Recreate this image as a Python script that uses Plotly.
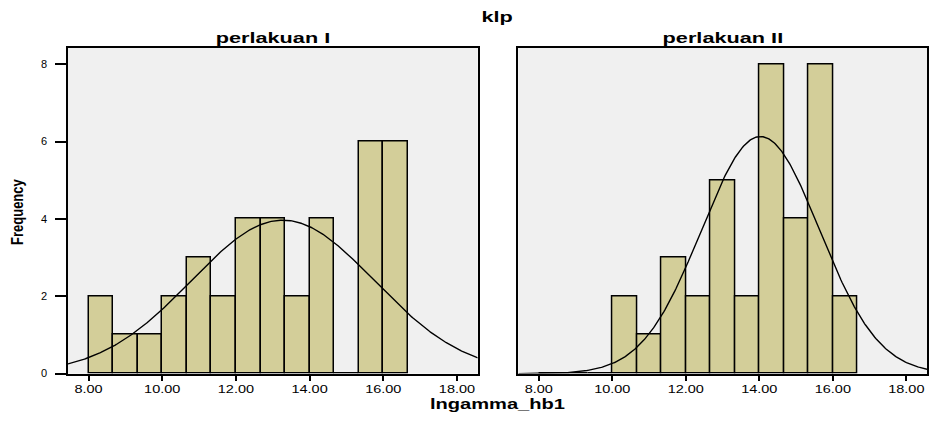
import numpy as np
import plotly.graph_objects as go

# ---- data ----
bin_start = 8.0
bin_width = 2.0 / 3.0
counts_p1 = [2, 1, 1, 2, 3, 2, 4, 4, 2, 4, 0, 6, 6]
counts_p2 = [0, 0, 0, 2, 1, 3, 2, 5, 2, 8, 4, 8, 2]
panel_titles = ["perlakuan I", "perlakuan II"]
mean_p1, sd_p1 = 13.27, 2.48
mean_p2, sd_p2 = 14.03, 1.605
x_ticks = [8, 10, 12, 14, 16, 18]
x_tick_text = ["8.00", "10.00", "12.00", "14.00", "16.00", "18.00"]
y_ticks = [0, 2, 4, 6, 8]

W, H = 930, 423
bar_color = "#D3CE99"
x_range = [7.44, 18.56]
y_range = [0, 8.43]

fig = go.Figure()

def add_panel(counts, mean, sd, xa, ya):
    centers = [bin_start + bin_width * (i + 0.5) for i in range(len(counts))]
    fig.add_trace(go.Bar(
        x=centers, y=counts, width=bin_width,
        marker=dict(color=bar_color, line=dict(color="black", width=1.5)),
        xaxis=xa, yaxis=ya, showlegend=False, hoverinfo="skip"))
    n = sum(counts)
    xs = np.linspace(x_range[0], x_range[1], 400)
    ys = n * bin_width / (sd * np.sqrt(2 * np.pi)) * np.exp(-0.5 * ((xs - mean) / sd) ** 2)
    fig.add_trace(go.Scatter(
        x=xs, y=ys, mode="lines", line=dict(color="black", width=1.4),
        xaxis=xa, yaxis=ya, showlegend=False, hoverinfo="skip"))

add_panel(counts_p1, mean_p1, sd_p1, "x", "y")
add_panel(counts_p2, mean_p2, sd_p2, "x2", "y2")

y_dom = [1 - 379 / H, 1 - 48.3 / H]
x_dom1 = [68 / W, 477.7 / W]
x_dom2 = [518.3 / W, 927 / W]

FAM = "Liberation Sans, Arial, sans-serif"
tick_font = dict(family=FAM, size=10, color="black")
xcommon = dict(range=x_range, tickvals=x_ticks, ticktext=x_tick_text,
               ticks="outside", ticklen=6, tickwidth=1.5, tickcolor="black",
               showline=True, linecolor="black", linewidth=1.5, mirror=True,
               showgrid=False, zeroline=False, tickfont=tick_font)
fig.update_layout(
    width=W, height=H,
    margin=dict(l=0, r=0, t=0, b=0),
    paper_bgcolor="white", plot_bgcolor="#F0F0F0",
    bargap=0,
    xaxis=dict(domain=x_dom1, anchor="y", **xcommon),
    xaxis2=dict(domain=x_dom2, anchor="y2", **xcommon),
    yaxis=dict(domain=y_dom, range=y_range, tickvals=y_ticks,
               ticks="outside", ticklen=11, tickwidth=1.5, tickcolor="black",
               ticklabelstandoff=6,
               showline=True, linecolor="black", linewidth=1.5, mirror=True,
               showgrid=False, zeroline=False, tickfont=dict(family=FAM, size=11, color="black"),
               anchor="x"),
    yaxis2=dict(domain=y_dom, range=y_range, showticklabels=False, ticks="",
                showline=True, linecolor="black", linewidth=1.5, mirror=True,
                showgrid=False, zeroline=False, anchor="x2"),
)

title_font = dict(family=FAM, size=14, color="black", weight="bold")
fig.add_annotation(text="klp", x=497.5 / W, y=1 - 17 / H, xref="paper", yref="paper",
                   showarrow=False, font=title_font, xanchor="center", yanchor="middle")
fig.add_annotation(text=panel_titles[0], x=(x_dom1[0] + x_dom1[1]) / 2, y=1 - 39 / H,
                   xref="paper", yref="paper", showarrow=False, font=title_font,
                   xanchor="center", yanchor="middle")
fig.add_annotation(text=panel_titles[1], x=(x_dom2[0] + x_dom2[1]) / 2, y=1 - 39 / H,
                   xref="paper", yref="paper", showarrow=False, font=title_font,
                   xanchor="center", yanchor="middle")
fig.add_annotation(text="lngamma_hb1", x=497.5 / W, y=1 - 409 / H, xref="paper", yref="paper",
                   showarrow=False, font=dict(family=FAM, size=15, color="black", weight="bold"),
                   xanchor="center", yanchor="middle")
fig.add_annotation(text="Frequency", x=18 / W, y=1 - 215 / H, xref="paper", yref="paper",
                   showarrow=False, textangle=-90,
                   font=dict(family=FAM, size=13, color="black", weight="bold"),
                   xanchor="center", yanchor="middle")

# The reference render is horizontally stretched; emulate it by scaling text horizontally.
post = """
var gd = document.getElementById('{plot_id}');
function stretch(t, sx, sy) {
  var cur = t.getAttribute('transform') || '';
  var prev = t.getAttribute('data-suf');
  if (prev && cur.slice(-prev.length) === prev) { cur = cur.slice(0, cur.length - prev.length); }
  var b = t.getBBox();
  var cx = b.x + b.width / 2, cy = b.y + b.height / 2;
  var suf = ' matrix(' + sx + ' 0 0 ' + sy + ' ' + (cx - sx * cx) + ' ' + (cy - sy * cy) + ')';
  t.setAttribute('transform', cur + suf);
  t.setAttribute('data-suf', suf);
}
function applyStretch() {
  gd.querySelectorAll('.xaxislayer-above text').forEach(function(t){ stretch(t, 1.45, 1); });
  gd.querySelectorAll('.annotation-text').forEach(function(t){
    var s = t.textContent;
    if (s === 'klp' || s.indexOf('perlakuan') === 0) { stretch(t, 1.55, 1); }
    else if (s === 'lngamma_hb1') { stretch(t, 1.34, 1); }
    else if (s === 'Frequency') { stretch(t, 1, 1.3); }
  });
}
applyStretch();
gd.on('plotly_afterplot', applyStretch);
"""

fig.write_html("out.html", post_script=post)
